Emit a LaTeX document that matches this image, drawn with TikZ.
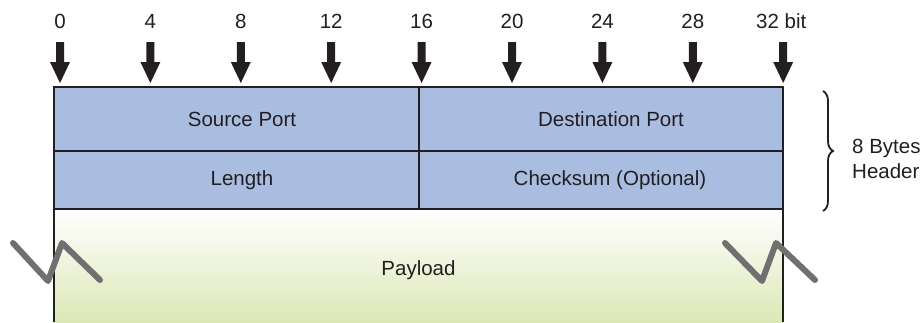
\documentclass[tikz,border=0pt]{standalone}
\usepackage{fontspec}
\setmainfont{Liberation Sans}
\usetikzlibrary{decorations.pathreplacing,calc}
\definecolor{hdr}{HTML}{A9BDE0}
\definecolor{pay}{HTML}{DCE8B6}
\definecolor{zig}{HTML}{707070}
\definecolor{edge}{HTML}{231F20}
\begin{document}
\begin{tikzpicture}[x=1pt,y=-1pt,
  lbl/.style={font=\fontsize{20.5}{25}\selectfont, inner sep=0pt, text=edge},
  frame/.style={draw=edge, line width=2.6pt},
  zigzag/.style={draw=zig, line width=6pt, line cap=round, line join=round}]
\useasboundingbox (0,0) rectangle (924,322);
% fills
\fill[hdr] (54,87) rectangle (783,209);
\shade[top color=white, bottom color=pay] (54,209) rectangle (783,322);
% frame
\draw[frame] (54,322) -- (54,87) -- (783,87) -- (783,322);
\draw[frame] (54,151) -- (783,151);
\draw[frame] (54,209) -- (783,209);
\draw[frame] (419,87) -- (419,209);
% field labels
\node[lbl] (sp) at (242,119) {Source Port};
\node[lbl] (dp) at (611,119) {Destination Port};
\node[lbl] (ln) at (242,180) {Length};
\node[lbl] (cs) at (610,180) {Checksum (Optional)};
\node[lbl] (pl) at (418.5,270) {Payload};
% bit arrows
\foreach \i/\t in {0/0,1/4,2/8,3/12,4/16,5/20,6/24,7/28,8/{}} {
  \pgfmathsetmacro{\xx}{60+90.4*\i}
  \node[lbl, anchor=base] (b\i) at (\xx,28) {\t};
  \fill[edge] (\xx-4,42) -- (\xx+4,42) -- (\xx+4,62)
     -- (\xx+10,62) -- (\xx,83) -- (\xx-10,62) -- (\xx-4,62) -- cycle;
}
\node[lbl, anchor=base west] (bend) at (756,28) {32 bit};
% brace
\coordinate (bt) at (823,91);
\coordinate (bb) at (823,211);
\draw[edge, line width=1.8pt, decorate, decoration={brace, amplitude=10pt}] (bt) -- (bb);
\node[lbl, anchor=west, align=left] (hd) at (852,159) {8 Bytes\\Header};
% zigzags
\draw[zigzag] (13,243) -- (48,281) -- (62,243) -- (100,280);
\draw[zigzag] (725,243) -- (762,281) -- (776,243) -- (815,280);
\end{tikzpicture}
\end{document}
